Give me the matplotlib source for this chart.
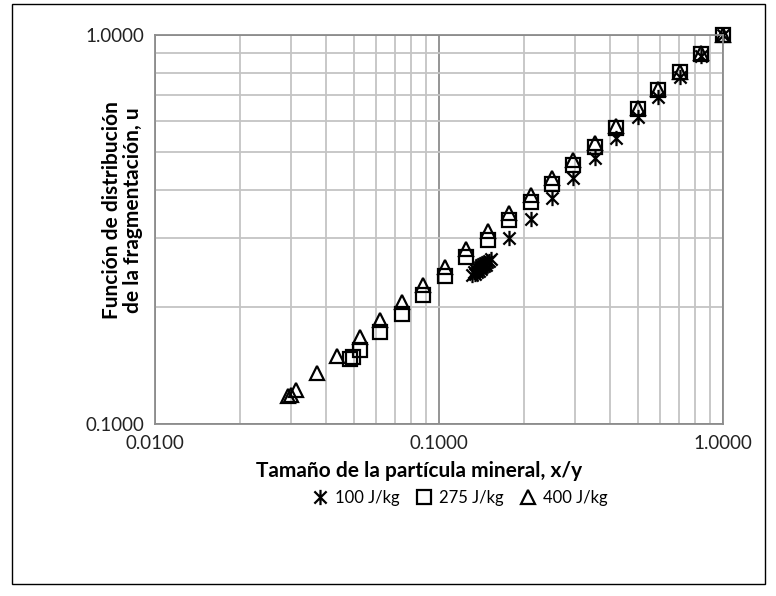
import matplotlib
matplotlib.use("Agg")
import matplotlib.pyplot as plt
from matplotlib.patches import Rectangle
from matplotlib.path import Path
from matplotlib.ticker import LogLocator, FixedLocator, NullFormatter

# --- data ---
# 100 J/kg: dense cluster near x~0.14, then the regular sieve points
x_100 = [0.131, 0.133, 0.134, 0.135, 0.136, 0.137, 0.138, 0.139, 0.140, 0.141,
         0.142, 0.143, 0.144, 0.145, 0.146, 0.148, 0.150, 0.152,
         0.177, 0.210, 0.249, 0.297, 0.353, 0.420, 0.500, 0.592,
         0.705, 0.838, 1.000]
u_100 = [0.242, 0.246, 0.243, 0.249, 0.246, 0.252, 0.248, 0.254, 0.251, 0.256,
         0.253, 0.258, 0.255, 0.260, 0.257, 0.261, 0.263, 0.266,
         0.300, 0.337, 0.380, 0.429, 0.484, 0.545, 0.614, 0.694,
         0.781, 0.883, 1.000]

x_275 = [0.0485, 0.0498, 0.0525, 0.0622, 0.0741, 0.0881, 0.1048, 0.1246, 0.1483,
         0.177, 0.210, 0.249, 0.297, 0.353, 0.420, 0.500, 0.592, 0.705, 0.838, 1.000]
u_275 = [0.147, 0.149, 0.155, 0.172, 0.192, 0.215, 0.240, 0.268, 0.298,
         0.334, 0.372, 0.415, 0.463, 0.516, 0.575, 0.644, 0.722, 0.801, 0.894, 1.000]

x_400 = [0.0295, 0.0300, 0.0313, 0.0371, 0.0437, 0.0525, 0.0622, 0.0741, 0.0881,
         0.1048, 0.1246, 0.1483, 0.177, 0.210, 0.249, 0.297, 0.353, 0.420, 0.500,
         0.592, 0.705, 0.838, 1.000]
u_400 = [0.118, 0.1185, 0.122, 0.135, 0.150, 0.167, 0.185, 0.206, 0.228,
         0.254, 0.282, 0.313, 0.349, 0.387, 0.430, 0.477, 0.528, 0.585, 0.651,
         0.725, 0.805, 0.897, 1.000]

labels = ["100 J/kg", "275 J/kg", "400 J/kg"]
x_ticks = [0.01, 0.1, 1.0]
x_ticklabels = ["0.0100", "0.1000", "1.0000"]
y_ticks = [0.1, 1.0]
y_ticklabels = ["0.1000", "1.0000"]

plt.rcParams['font.family'] = ['Lato', 'DejaVu Sans']

fig = plt.figure(figsize=(7.76, 5.96), dpi=100)
ax = fig.add_axes([155 / 776, 1 - 424 / 596, 568 / 776, 389 / 596])

# excel style star: an X plus a vertical bar
star = Path([(0, -1), (0, 1), (-0.8, -0.8), (0.8, 0.8), (-0.8, 0.8), (0.8, -0.8)],
            [Path.MOVETO, Path.LINETO] * 3)

mk = dict(linestyle='none', markerfacecolor='none', markeredgecolor='black',
          markeredgewidth=1.6, clip_on=False)
ax.plot(x_100, u_100, marker=star, markersize=11, label=labels[0], **mk)
ax.plot(x_275, u_275, marker='s', markersize=9.5, label=labels[1], **mk)
ax.plot(x_400, u_400, marker='^', markersize=10.5, label=labels[2], **mk)

ax.set_xscale('log')
ax.set_yscale('log')
ax.set_xlim(0.01, 1.0)
ax.set_ylim(0.1, 1.0)

ax.xaxis.set_major_locator(FixedLocator(x_ticks))
ax.set_xticklabels(x_ticklabels)
ax.yaxis.set_major_locator(FixedLocator(y_ticks))
ax.set_yticklabels(y_ticklabels)
ax.xaxis.set_minor_locator(LogLocator(base=10, subs=range(2, 10)))
ax.yaxis.set_minor_locator(LogLocator(base=10, subs=range(2, 10)))
ax.xaxis.set_minor_formatter(NullFormatter())
ax.yaxis.set_minor_formatter(NullFormatter())

ax.grid(which='major', color='#8c8c8c', linewidth=1.3)
ax.grid(which='minor', color='#c4c4c4', linewidth=1.3)
ax.set_axisbelow(True)
for s in ax.spines.values():
    s.set_color('#8c8c8c')
    s.set_linewidth(1.3)

ax.tick_params(which='both', length=0, labelsize=13.5, colors='#222222')
ax.tick_params(axis='x', pad=8)
ax.tick_params(axis='y', pad=8)

ax.set_xlabel('Tamaño de la partícula mineral, x/y', fontsize=15,
              fontweight='bold')
ax.xaxis.set_label_coords(0.465, -0.095)
ax.set_ylabel('Función de distribución\nde la fragmentación, u', fontsize=15,
              fontweight='bold', linespacing=1.05)
ax.yaxis.set_label_coords(-0.022, 0.55)

fig.legend(loc='center', bbox_to_anchor=(460 / 776, 1 - 498 / 596), ncol=3,
           frameon=False, fontsize=12, handletextpad=0.45, columnspacing=1.0,
           handlelength=0.9)

fig.patches.append(Rectangle((12 / 776, 1 - 584 / 596), 753 / 776, 580 / 596,
                             transform=fig.transFigure, fill=False,
                             edgecolor='black', linewidth=1.0))

fig.savefig('out.png', dpi=100)
